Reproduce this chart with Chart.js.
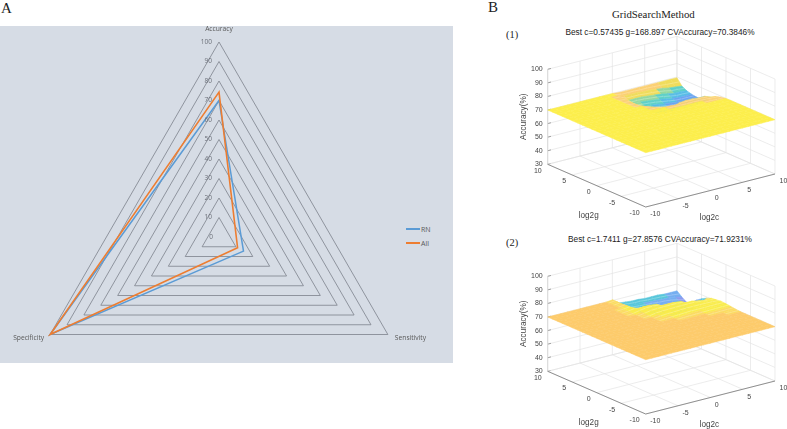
<!DOCTYPE html>
<html>
<head>
<meta charset="utf-8">
<title>Radar and grid search</title>
<script src="https://cdn.jsdelivr.net/npm/chart.js@4/dist/chart.umd.min.js"></script>
<style>
    html, body { margin: 0; padding: 0; width: 787px; height: 429px; overflow: hidden; background: #fff; }
    canvas { position: absolute; }
    .txt { position: absolute; white-space: nowrap; line-height: 1; }
    .serif { font-family: "Liberation Serif", serif; color: #222; }
    .sans { font-family: "Liberation Sans", sans-serif; color: #222; font-size: 8.3px; transform: translateX(-50%); }
    #panelA { position: absolute; left: 0; top: 26px; width: 453px; height: 337px; background: #d6dce5; }
    .key { position: absolute; left: 406px; width: 14px; height: 2px; }
    .keyText { font-family: "Open Sans", sans-serif; font-size: 7px; color: #595959; left: 421px; }
</style>
</head>
<body>
<div id="panelA"></div>
<div class="txt serif" style="left:1px;top:1px;font-size:15px">A</div>
<div class="txt serif" style="left:488px;top:0;font-size:15px">B</div>
<div class="txt serif" style="left:612px;top:9px;font-size:10.8px">GridSearchMethod</div>
<div class="txt serif" style="left:506px;top:30px;font-size:10.4px">(1)</div>
<div class="txt serif" style="left:506px;top:238px;font-size:10.4px">(2)</div>
<div class="txt sans" style="left:660px;top:28px">Best c=0.57435 g=168.897 CVAccuracy=70.3846%</div>
<div class="txt sans" style="left:660px;top:235px">Best c=1.7411 g=27.8576 CVAccuracy=71.9231%</div>
<div class="key" style="top:228px;background:#5b9bd5"></div>
<div class="key" style="top:242px;background:#ed7d31"></div>
<div class="txt keyText" style="top:226px">RN</div>
<div class="txt keyText" style="top:240px">All</div>

<canvas id="radar" width="438" height="432" style="left:0;top:0"></canvas>
<canvas id="grid1" width="277" height="198" style="left:510px;top:24px"></canvas>
<canvas id="grid2" width="277" height="198" style="left:510px;top:231px"></canvas>

<script>
// radar data
const radarLabels = ['Accuracy', 'Sensitivity', 'Specificity'];
const radarRN = [70, 14.5, 100];
const radarAll = [74.3, 11, 100];
const radarTicks = [0, 10, 20, 30, 40, 50, 60, 70, 80, 90, 100];

// grid search axes
const cTicks = [-10, -5, 0, 5, 10];
const gTicks = [-10, -5, 0, 5, 10];
const zTicks = [30, 40, 50, 60, 70, 80, 90, 100];
const baseAccuracy = 70;

// accuracy read off the surfaces, rows are log2g, columns are log2c
// everything outside these rows and columns sits on the flat level
const tableC = [-2, -1, 0, 1, 2, 3, 4, 5, 6, 7, 8, 9, 10];
const tableG = [10, 9, 8, 7, 6, 5, 4, 3, 2, 1, 0, -1, -2, -3];
const surface1 = [
    [70, 70, 70, 69.5, 69.5, 69.5, 69.5, 69.5, 69.5, 69.5, 69.5, 69.5, 69.5],
    [70, 70, 70, 68.5, 68.5, 68.5, 68, 68, 67.5, 67, 66, 65.5, 65],
    [70, 70, 69.5, 67, 67, 67, 66.5, 66, 65.5, 64.5, 63.5, 63.5, 63],
    [70, 70, 69.5, 66, 66, 65.5, 65, 64.5, 63.5, 62.5, 62, 62, 62],
    [70, 70, 69.5, 65.5, 64.5, 64, 63.5, 62.5, 62, 61.5, 61.5, 61.5, 61.5],
    [70, 70, 69.5, 66.5, 63.5, 62.5, 62, 61.5, 61, 61, 61, 61, 61.5],
    [70, 70, 70, 68.5, 63, 61.5, 61, 61, 61, 61, 61, 61.5, 62.5],
    [70, 70, 70, 69.7, 68.5, 67, 66, 68, 68.5, 68.5, 68, 68, 66],
    [70, 70, 70, 70, 70, 69.8, 69.5, 69.5, 69.5, 69.3, 69, 68.8, 68.3],
    [70, 70, 70, 70, 70, 70, 70, 70, 70, 70, 69.8, 69.5, 69.3],
    [70, 70, 70, 70, 70, 70, 70, 70, 70, 70, 70, 70, 69.9],
    [70, 70, 70, 70, 70, 70, 70, 70, 70, 70, 70, 70, 70],
    [70, 70, 70, 70, 70, 70, 70, 70, 70, 70, 70, 70, 70],
    [70, 70, 70, 70, 70, 70, 70, 70, 70, 70, 70, 70, 70]
];
const surface2 = [
    [70, 70, 70.5, 67, 66.5, 66, 66, 65.5, 65.5, 65.5, 65, 65, 65],
    [70, 70, 70.5, 66, 65.5, 65, 65, 64.5, 64.5, 64, 64, 63, 62],
    [70, 70, 70.5, 65, 65, 64.5, 64, 64, 63, 63, 62, 61, 59.5],
    [70, 70.3, 70.8, 65, 64, 63.5, 63, 62.5, 62, 61.5, 61, 60, 61],
    [70, 70.3, 71, 69, 64, 62, 61.5, 61, 61, 60, 60, 61, 64.5],
    [70, 70.5, 71.5, 72, 72, 71.5, 66, 61.5, 60.5, 60, 61, 64, 67],
    [70, 70, 71, 71.8, 72, 72, 72, 72, 71.5, 67, 64, 66, 69],
    [70, 70, 70.5, 71.5, 71.8, 72, 72, 72, 72, 72, 71, 70, 70.5],
    [70, 70, 70.3, 71, 71.5, 71.5, 71.8, 72, 72, 72, 71.8, 71.5, 71],
    [70, 70, 70, 70.5, 70.8, 71, 71.3, 71.5, 71.5, 71.5, 71.5, 71.5, 71.5],
    [70, 70, 70, 70, 70.2, 70.5, 70.8, 71, 71, 71, 71.2, 71.2, 71.2],
    [70, 70, 70, 70, 70, 70, 70, 70, 70.3, 70.5, 70.6, 70.8, 70.8],
    [70, 70, 70, 70, 70, 70, 70, 70, 70, 70, 70.2, 70.3, 70.3],
    [70, 70, 70, 70, 70, 70, 70, 70, 70, 70, 70, 70, 70]
];

// colour bands, lowest accuracy first: [upper limit, colour, streak colour]
const bands1 = [
    [62, '#6aa4f0', '#a6c8f6'], [63.5, '#58bde6', '#a0dcf2'], [65, '#5fd0c8', '#a8e6e0'], [66.5, '#94d8a0', '#c8ecc8'],
    [68, '#f0dc5c', '#f8eca0'], [69.95, '#fbd074', '#fde2a8'], [99, '#fcee4c', '#fcee4c']
];
const bands2 = [
    [62, '#8a9cf0', '#b8c4f6'], [64.5, '#74aef0', '#aecdf6'], [67.5, '#58c6da', '#a2e0ea'], [69.95, '#f4dc60', '#f8eca0'],
    [70.1, '#fdcb6b', '#fdcb6b'], [70.6, '#fbdc62', '#fde6a6'], [99, '#f9ec4c', '#fcf4a0']
];

// tick numbers and axis names of the radar, placed from the scale
const radarTextPlugin = {
    id: 'radarText',
    afterDatasetsDraw(chart) {
        const r = chart.scales.r;
        const ctx = chart.ctx;
        ctx.save();
        ctx.font = '6.5px "Open Sans"';
        ctx.fillStyle = '#6b6f78';
        ctx.textAlign = 'right';
        ctx.textBaseline = 'middle';
        radarTicks.forEach(v => {
            const x = v === 0 ? r.xCenter - 6 : r.xCenter - 7;
            ctx.fillText(String(v), x, r.yCenter - r.getDistanceFromCenterForValue(v));
        });
        ctx.font = '6.7px "Open Sans"';
        ctx.fillStyle = '#595959';
        const top = r.getPointPosition(0, r.drawingArea + 13);
        ctx.textAlign = 'center';
        ctx.fillText(radarLabels[0], top.x, top.y);
        const right = r.getPointPosition(1, r.drawingArea);
        ctx.textAlign = 'left';
        ctx.fillText(radarLabels[1], right.x + 7, right.y + 3.5);
        const left = r.getPointPosition(2, r.drawingArea);
        ctx.textAlign = 'right';
        ctx.fillText(radarLabels[2], left.x - 6, left.y + 3.5);
        ctx.restore();
    }
};

new Chart(document.getElementById('radar'), {
    type: 'radar',
    data: {
        labels: radarLabels,
        datasets: [
            { label: 'RN', data: radarRN, borderColor: '#5b9bd5', borderWidth: 1.5, pointRadius: 0, fill: false, order: 2 },
            { label: 'All', data: radarAll, borderColor: '#ed7d31', borderWidth: 1.6, pointRadius: 0, fill: false, order: 1 }
        ]
    },
    options: {
        responsive: false,
        animation: false,
        layout: { padding: { top: 42 } },
        plugins: { legend: { display: false }, tooltip: { enabled: false } },
        scales: {
            r: {
                min: 0,
                max: 100,
                ticks: { display: false, stepSize: 10 },
                angleLines: { display: false },
                grid: { circular: false, color: '#7c818c', lineWidth: 0.8 },
                pointLabels: { display: false }
            }
        }
    },
    plugins: [radarTextPlugin]
});

// view of the box: screen units per full axis, floor corner nearest the viewer
const view = { x0: 135.7, y0: 15, cx: 129.3, cy: 33, gx: -98, gy: 42.7, zPerUnit: 1.357 };

function project(c, g, z) {
    const a = (c + 10) / 20;
    const b = (g + 10) / 20;
    return {
        x: view.x0 + a * view.cx + b * view.gx,
        y: view.y0 + a * view.cy + b * view.gy + (z - zTicks[0]) * view.zPerUnit
    };
}

function lineSet(points, color, width) {
    return { data: points, showLine: true, fill: false, borderColor: color, borderWidth: width, pointRadius: 0, clip: false };
}

function surfaceAt(table, c, g) {
    const row = tableG.indexOf(g);
    const col = tableC.indexOf(c);
    return row < 0 || col < 0 ? baseAccuracy : table[row][col];
}

function buildDatasets(table, bands) {
    const drawOrder = [];
    const zTop = zTicks[zTicks.length - 1];
    // walls and floor
    zTicks.forEach(z => {
        drawOrder.push(lineSet([project(-10, 10, z), project(10, 10, z), project(10, -10, z)], '#e4e4e4', 0.7));
        drawOrder.push(lineSet([project(-10, 10, z), project(-9.5, 10, z)], '#777', 0.7));
    });
    cTicks.forEach(c => {
        drawOrder.push(lineSet([project(c, -10, 30), project(c, 10, 30), project(c, 10, zTop)], '#e4e4e4', 0.7));
    });
    gTicks.forEach(g => {
        drawOrder.push(lineSet([project(-10, g, 30), project(10, g, 30), project(10, g, zTop)], '#e4e4e4', 0.7));
    });
    drawOrder.push(lineSet([project(-10, 10, 30), project(-10, 10, zTop)], '#d0d0d0', 0.7));
    // axes on the floor
    drawOrder.push(lineSet([project(-10, 10, 30), project(-10, -10, 30), project(10, -10, 30)], '#777', 0.8));
    // surface cells, back to front
    for (let g = 9; g >= -10; g--) {
        for (let c = 9; c >= -10; c--) {
            const z = [surfaceAt(table, c, g), surfaceAt(table, c + 1, g), surfaceAt(table, c + 1, g + 1), surfaceAt(table, c, g + 1)];
            const mean = (z[0] + z[1] + z[2] + z[3]) / 4;
            const band = bands.find(b => mean <= b[0]);
            drawOrder.push({
                data: [project(c, g, z[0]), project(c + 1, g, z[1]), project(c + 1, g + 1, z[2]), project(c, g + 1, z[3]), project(c, g, z[0])],
                showLine: true,
                fill: 'shape',
                backgroundColor: band[1],
                borderColor: band[1],
                borderWidth: 0.5,
                pointRadius: 0,
                clip: false
            });
            // pale mesh line along log2c on the parts that leave the flat level
            if (band[1] !== band[2]) {
                drawOrder.push(lineSet([project(c, g + 0.5, (z[0] + z[3]) / 2), project(c + 1, g + 0.5, (z[1] + z[2]) / 2)], band[2], 0.6));
            }
        }
    }
    // chart.js paints the first dataset last
    return drawOrder.reverse();
}

const boxTextPlugin = {
    id: 'boxText',
    afterDatasetsDraw(chart) {
        const ctx = chart.ctx;
        const sx = chart.scales.x;
        const sy = chart.scales.y;
        const px = p => sx.getPixelForValue(p.x);
        const py = p => sy.getPixelForValue(p.y);
        ctx.save();
        ctx.fillStyle = '#444';
        ctx.textBaseline = 'middle';
        ctx.font = '7px "Liberation Sans"';
        ctx.textAlign = 'right';
        zTicks.forEach(z => {
            const p = project(-10, 10, z);
            ctx.fillText(String(z), px(p) - 5, py(p));
        });
        gTicks.forEach(g => {
            const p = project(-10, g, 30);
            ctx.fillText(String(g), px(p) - 6, py(p) + 6.5);
        });
        ctx.textAlign = 'left';
        cTicks.forEach(c => {
            const p = project(c, -10, 30);
            ctx.fillText(String(c), px(p) + 4.5, py(p) + 7.5);
        });
        ctx.font = '8.2px "Liberation Sans"';
        ctx.textAlign = 'center';
        const gLabel = project(-10, 0, 30);
        ctx.fillText('log2g', px(gLabel) - 8, py(gLabel) + 30);
        const cLabel = project(0, -10, 30);
        ctx.fillText('log2c', px(cLabel) - 1, py(cLabel) + 27);
        const zLabel = project(-10, 10, 65);
        ctx.translate(px(zLabel) - 24, py(zLabel));
        ctx.rotate(-Math.PI / 2);
        ctx.fillText('Accuracy(%)', 0, 0);
        ctx.restore();
    }
};

function drawGrid(id, table, bands) {
    const canvas = document.getElementById(id);
    new Chart(canvas, {
        type: 'scatter',
        data: { datasets: buildDatasets(table, bands) },
        options: {
            responsive: false,
            animation: false,
            plugins: { legend: { display: false }, tooltip: { enabled: false } },
            layout: { padding: 0 },
            scales: {
                x: { display: false, min: 0, max: canvas.width },
                y: { display: false, min: 0, max: canvas.height }
            }
        },
        plugins: [boxTextPlugin]
    });
}

drawGrid('grid1', surface1, bands1);
drawGrid('grid2', surface2, bands2);
</script>
</body>
</html>
